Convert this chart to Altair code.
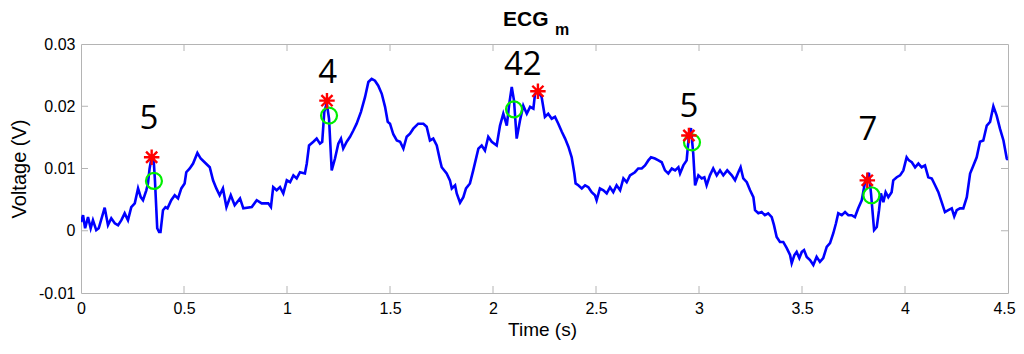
import altair as alt
import pandas as pd

# ---- data (time s, voltage V) ----
TRACE_A = [
    [0.000, 0.0014], [0.010, 0.0025], [0.020, 0.0004], [0.034, 0.0022], [0.047, 0.0004],
    [0.058, 0.0017], [0.074, 0.0001], [0.086, 0.0004], [0.115, 0.0037], [0.131, 0.0009],
    [0.147, 0.0020], [0.164, 0.0012], [0.180, 0.0009], [0.196, 0.0017], [0.212, 0.0028],
    [0.228, 0.0017], [0.244, 0.0038], [0.261, 0.0044], [0.277, 0.0068], [0.290, 0.0054],
    [0.301, 0.0049], [0.317, 0.0065], [0.325, 0.0076], [0.333, 0.0100], [0.343, 0.0118],
    [0.352, 0.0118], [0.359, 0.0081], [0.370, 0.0004], [0.379, -0.0002], [0.386, -0.0002],
    [0.398, 0.0033], [0.410, 0.0038], [0.420, 0.0036], [0.438, 0.0049], [0.455, 0.0057],
    [0.471, 0.0052], [0.487, 0.0068], [0.503, 0.0076], [0.511, 0.0094], [0.528, 0.0100],
    [0.544, 0.0108], [0.565, 0.0125], [0.581, 0.0116], [0.600, 0.0110], [0.625, 0.0102],
    [0.641, 0.0081], [0.657, 0.0068], [0.673, 0.0057], [0.689, 0.0068], [0.706, 0.0038],
    [0.727, 0.0057], [0.746, 0.0041], [0.772, 0.0052], [0.788, 0.0036], [0.829, 0.0038],
    [0.853, 0.0049], [0.877, 0.0044], [0.909, 0.0044], [0.922, 0.0038], [0.933, 0.0070],
    [0.950, 0.0065], [0.966, 0.0070], [0.982, 0.0060], [0.999, 0.0081], [1.015, 0.0078],
    [1.031, 0.0089], [1.047, 0.0084], [1.063, 0.0094], [1.087, 0.0092], [1.096, 0.0108],
    [1.107, 0.0137], [1.128, 0.0143], [1.144, 0.0148], [1.160, 0.0140], [1.171, 0.0143],
    [1.181, 0.0191], [1.193, 0.0205], [1.204, 0.0180], [1.217, 0.0097], [1.233, 0.0116],
    [1.249, 0.0140], [1.262, 0.0148], [1.273, 0.0132], [1.290, 0.0143], [1.306, 0.0151],
    [1.322, 0.0161], [1.338, 0.0172], [1.359, 0.0191], [1.379, 0.0215], [1.395, 0.0239],
    [1.411, 0.0244], [1.427, 0.0241], [1.443, 0.0233], [1.460, 0.0220], [1.476, 0.0199],
    [1.489, 0.0175], [1.500, 0.0172],
]
TRACE_B = [
    [1.516, 0.0155], [1.533, 0.0145], [1.549, 0.0143], [1.565, 0.0132], [1.581, 0.0151],
    [1.597, 0.0156], [1.613, 0.0164], [1.637, 0.0172], [1.662, 0.0172], [1.678, 0.0167],
    [1.694, 0.0145], [1.710, 0.0148], [1.727, 0.0137], [1.743, 0.0113], [1.751, 0.0102],
    [1.775, 0.0092], [1.791, 0.0081], [1.800, 0.0068], [1.816, 0.0073], [1.824, 0.0060],
    [1.840, 0.0045], [1.856, 0.0054], [1.869, 0.0068], [1.888, 0.0076], [1.904, 0.0097],
    [1.929, 0.0132], [1.945, 0.0137], [1.961, 0.0129], [1.977, 0.0151], [1.994, 0.0143],
    [2.018, 0.0137], [2.034, 0.0169], [2.050, 0.0188], [2.067, 0.0169], [2.079, 0.0204],
    [2.091, 0.0231], [2.102, 0.0209], [2.115, 0.0148], [2.131, 0.0177], [2.147, 0.0201],
    [2.164, 0.0188], [2.180, 0.0199], [2.196, 0.0196], [2.204, 0.0220], [2.220, 0.0223],
    [2.236, 0.0215], [2.252, 0.0183], [2.268, 0.0188], [2.285, 0.0180], [2.301, 0.0183],
    [2.317, 0.0172], [2.334, 0.0159], [2.350, 0.0148], [2.366, 0.0135], [2.382, 0.0118],
    [2.395, 0.0092], [2.401, 0.0076], [2.414, 0.0073], [2.431, 0.0068], [2.447, 0.0073],
    [2.463, 0.0070], [2.479, 0.0062], [2.495, 0.0057], [2.503, 0.0049], [2.519, 0.0068],
    [2.536, 0.0065], [2.552, 0.0060], [2.568, 0.0070], [2.584, 0.0062], [2.600, 0.0073],
    [2.617, 0.0065], [2.633, 0.0084], [2.649, 0.0078], [2.665, 0.0089], [2.689, 0.0094],
    [2.705, 0.0100], [2.722, 0.0100], [2.738, 0.0105], [2.754, 0.0113], [2.767, 0.0118],
    [2.786, 0.0116], [2.803, 0.0113], [2.819, 0.0110], [2.835, 0.0097], [2.851, 0.0092],
    [2.868, 0.0100], [2.884, 0.0097], [2.900, 0.0102], [2.908, 0.0092], [2.924, 0.0105],
    [2.940, 0.0113], [2.951, 0.0153], [2.961, 0.0165], [2.972, 0.0124], [2.981, 0.0073],
    [2.997, 0.0089],
]
TRACE_C = [
    [3.013, 0.0084], [3.026, 0.0086], [3.037, 0.0073], [3.053, 0.0089], [3.069, 0.0100],
    [3.086, 0.0089], [3.102, 0.0097], [3.118, 0.0089], [3.137, 0.0097], [3.159, 0.0089],
    [3.175, 0.0081], [3.191, 0.0094], [3.202, 0.0102], [3.215, 0.0084], [3.232, 0.0078],
    [3.248, 0.0065], [3.264, 0.0054], [3.272, 0.0033], [3.288, 0.0028], [3.304, 0.0030],
    [3.320, 0.0025], [3.336, 0.0028], [3.353, 0.0022], [3.364, 0.0009], [3.377, -0.0010],
    [3.393, -0.0018], [3.409, -0.0018], [3.426, -0.0028], [3.442, -0.0039], [3.450, -0.0052],
    [3.463, -0.0039], [3.474, -0.0034], [3.487, -0.0044], [3.499, -0.0034], [3.510, -0.0031],
    [3.523, -0.0042], [3.539, -0.0047], [3.555, -0.0055], [3.571, -0.0042], [3.587, -0.0050],
    [3.603, -0.0044], [3.620, -0.0026], [3.636, -0.0020], [3.652, -0.0004], [3.665, 0.0012],
    [3.676, 0.0028], [3.693, 0.0025], [3.709, 0.0030], [3.725, 0.0025], [3.741, 0.0025],
    [3.757, 0.0022], [3.773, 0.0036], [3.790, 0.0049], [3.806, 0.0078], [3.825, 0.0093],
    [3.835, 0.0060], [3.850, 0.0001], [3.863, 0.0006], [3.874, 0.0033], [3.883, 0.0060],
    [3.895, 0.0046], [3.906, 0.0062], [3.919, 0.0054], [3.935, 0.0062], [3.943, 0.0081],
    [3.960, 0.0086], [3.976, 0.0089], [3.992, 0.0097], [4.008, 0.0118], [4.019, 0.0113],
    [4.033, 0.0110], [4.049, 0.0102], [4.065, 0.0108], [4.081, 0.0102], [4.097, 0.0105],
    [4.113, 0.0086], [4.130, 0.0084], [4.146, 0.0073], [4.162, 0.0062], [4.178, 0.0046],
    [4.194, 0.0030], [4.210, 0.0033], [4.227, 0.0036], [4.239, 0.0023], [4.251, 0.0033],
    [4.267, 0.0036], [4.283, 0.0036], [4.300, 0.0054], [4.316, 0.0092], [4.332, 0.0105],
    [4.348, 0.0118], [4.364, 0.0143], [4.380, 0.0145], [4.397, 0.0169], [4.413, 0.0175],
    [4.429, 0.0200], [4.445, 0.0185], [4.461, 0.0164], [4.478, 0.0145], [4.494, 0.0116],
    [4.500, 0.0114],
]

STAR_T = [0.343, 1.194, 2.218, 2.951, 3.817]
STAR_V = [0.0118, 0.0209, 0.0224, 0.0153, 0.0081]

RING_T = [0.354, 1.204, 2.102, 2.966, 3.837]
RING_V = [0.0080, 0.0185, 0.0195, 0.0142, 0.0057]

LABEL_TEXT = ["5", "4", "42", "5", "7"]
LABEL_T = [0.330, 1.197, 2.145, 2.951, 3.820]
LABEL_V = [0.0164, 0.0237, 0.0250, 0.0183, 0.0145]

X_TICKS = [0, 0.5, 1, 1.5, 2, 2.5, 3, 3.5, 4, 4.5]
Y_TICKS = [-0.01, 0, 0.01, 0.02, 0.03]

# ---- tables ----
trace = pd.DataFrame(TRACE_A + TRACE_B + TRACE_C, columns=["t", "v"])
stars = pd.DataFrame({"t": STAR_T, "v": STAR_V})
rings = pd.DataFrame({"t": RING_T, "v": RING_V})
labels = pd.DataFrame({"t": LABEL_T, "v": LABEL_V, "s": LABEL_TEXT})
xt = pd.DataFrame({"t": X_TICKS[1:-1]})
yt = pd.DataFrame({"v": Y_TICKS[1:-1]})

W, H = 927, 249
GRAY = "#b4b4b4"
FONT = "Liberation Sans"

xs = alt.Scale(domain=[0, 4.5], nice=False, zero=False)
ys = alt.Scale(domain=[-0.01, 0.03], nice=False, zero=False)

x_axis = alt.Axis(
    values=X_TICKS, labelExpr="format(datum.value, '~g')", title="Time (s)",
    domain=False, ticks=False, tickSize=0, grid=False, labelFlush=False, labelOverlap=False,
    labelOffset={"condition": {"test": "datum.value >= 4.5", "value": -4}, "value": 0},
    labelFont=FONT, labelFontSize=16, labelColor="#000000", labelPadding=7,
    titleFont=FONT, titleFontSize=19, titleFontWeight="normal", titleColor="#000000",
    titleX=461, titleY=36, titleBaseline="middle", titleAlign="center",
)
y_axis = alt.Axis(
    values=Y_TICKS,
    labelExpr="datum.value == 0 ? '0' : (datum.value < 0 ? '-' + format(-datum.value, '.2f') : format(datum.value, '.2f'))",
    title="Voltage (V)",
    domain=False, ticks=False, tickSize=0, grid=False, labelFlush=False, labelOverlap=False,
    labelFont=FONT, labelFontSize=16, labelColor="#000000", labelPadding=6,
    titleFont=FONT, titleFontSize=20, titleFontWeight="normal", titleColor="#000000",
    titleX=-62, titleY=124.5, titleAngle=270, titleBaseline="middle", titleAlign="center",
)

line = alt.Chart(trace).mark_line(color="#0000ff", strokeWidth=2.6, clip=True).encode(
    x=alt.X("t:Q", scale=xs, axis=x_axis),
    y=alt.Y("v:Q", scale=ys, axis=y_axis),
)

TL = 7
xtick_bottom = alt.Chart(xt).mark_rule(color=GRAY, strokeWidth=1).encode(
    x=alt.X("t:Q", scale=xs), y=alt.value(H - TL), y2=alt.value(H))
xtick_top = alt.Chart(xt).mark_rule(color=GRAY, strokeWidth=1).encode(
    x=alt.X("t:Q", scale=xs), y=alt.value(0), y2=alt.value(TL))
ytick_left = alt.Chart(yt).mark_rule(color=GRAY, strokeWidth=1).encode(
    y=alt.Y("v:Q", scale=ys), x=alt.value(0), x2=alt.value(TL))
ytick_right = alt.Chart(yt).mark_rule(color=GRAY, strokeWidth=1).encode(
    y=alt.Y("v:Q", scale=ys), x=alt.value(W - TL), x2=alt.value(W))

STAR_PATH = "M-1,0L1,0M0,-1L0,1M-0.72,-0.72L0.72,0.72M-0.72,0.72L0.72,-0.72"
star_pts = alt.Chart(stars).mark_point(
    shape=STAR_PATH, size=240, filled=False, stroke="#ff0000", strokeWidth=2.4, opacity=1
).encode(x=alt.X("t:Q", scale=xs), y=alt.Y("v:Q", scale=ys))

ring_pts = alt.Chart(rings).mark_point(
    shape="circle", size=256, filled=False, stroke="#00ee00", strokeWidth=2.2, opacity=1
).encode(x=alt.X("t:Q", scale=xs), y=alt.Y("v:Q", scale=ys))

label_txt = alt.Chart(labels).mark_text(
    font="Open Sans", fontSize=33, baseline="alphabetic", align="center", color="#000000"
).encode(x=alt.X("t:Q", scale=xs), y=alt.Y("v:Q", scale=ys), text="s:N")

title_main = alt.Chart(pd.DataFrame({"s": ["ECG"]})).mark_text(
    font=FONT, fontSize=21, fontWeight="bold", align="left", baseline="alphabetic", color="#000000"
).encode(text="s:N", x=alt.value(422), y=alt.value(-18))
title_sub = alt.Chart(pd.DataFrame({"s": ["m"]})).mark_text(
    font=FONT, fontSize=16, fontWeight="bold", align="left", baseline="alphabetic", color="#000000"
).encode(text="s:N", x=alt.value(474), y=alt.value(-9))

chart = alt.layer(
    line, xtick_bottom, xtick_top, ytick_left, ytick_right,
    ring_pts, star_pts, label_txt, title_main, title_sub,
).properties(
    width=W, height=H,
    autosize=alt.AutoSizeParams(type="none"),
    padding={"left": 73, "top": 36, "right": 8, "bottom": 48},
    background="#ffffff",
).configure_view(stroke=GRAY, strokeWidth=1)

chart.save("out.html", embed_options={"renderer": "svg", "actions": False})
